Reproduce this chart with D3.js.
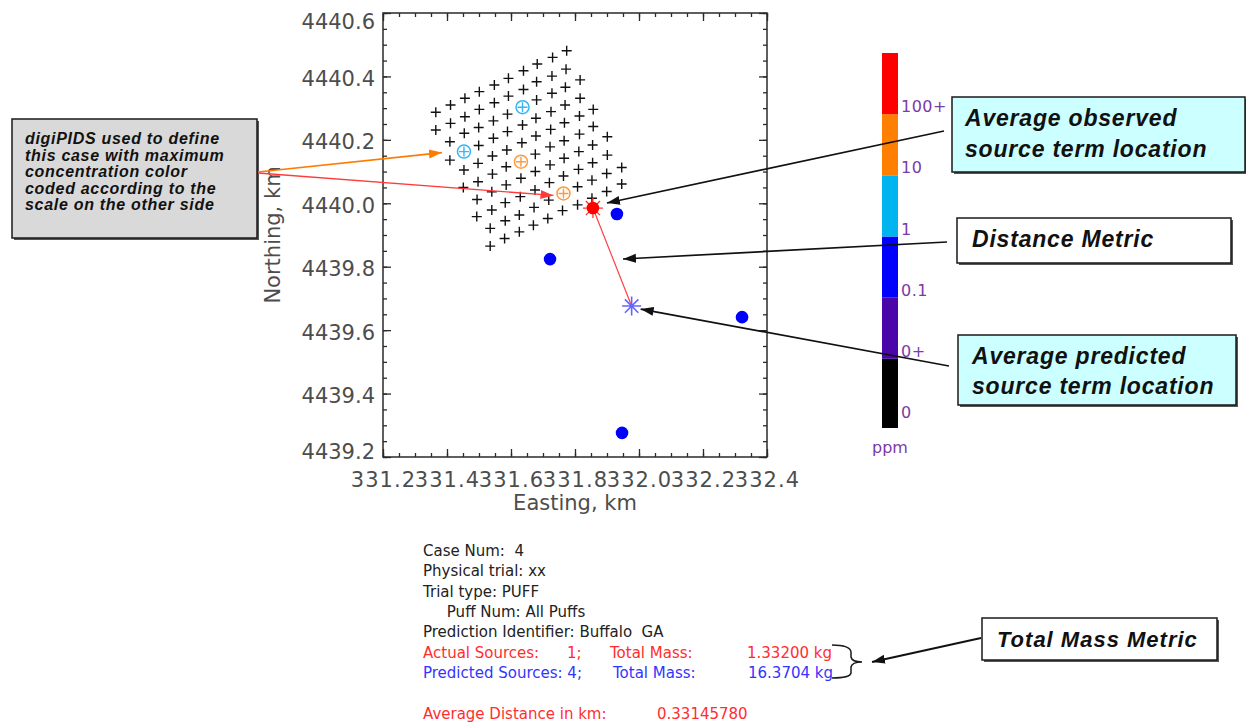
<!DOCTYPE html>
<html>
<head>
<meta charset="utf-8">
<script src="https://cdn.jsdelivr.net/npm/d3@7"></script>
<style>
  body { margin: 0; background: #fff; }
  svg { display: block; }
  text { white-space: pre; }
</style>
</head>
<body>
<svg id="chart" width="1246" height="727"></svg>
<script>
// ---------------- data ----------------
const eastingTicks  = [331.2, 331.4, 331.6, 331.8, 332.0, 332.2, 332.4];
const northingTicks = [4439.2, 4439.4, 4439.6, 4439.8, 4440.0, 4440.2, 4440.4, 4440.6];

// digiPIDS sampler grid (km)
const samplerEasting = [
  331.365, 331.365,
  331.411, 331.411, 331.409, 331.409,
  331.456, 331.456, 331.454, 331.453, 331.453, 331.451,
  331.501, 331.501, 331.499, 331.499, 331.497, 331.497, 331.494, 331.493,
  331.548, 331.548, 331.545, 331.545, 331.542, 331.542, 331.540, 331.540, 331.535, 331.535,
  331.592, 331.592, 331.589, 331.589, 331.587, 331.585, 331.585, 331.582, 331.582, 331.580,
  331.639, 331.639, 331.636, 331.636, 331.634, 331.631, 331.631, 331.629, 331.626, 331.626,
  331.682, 331.680, 331.680, 331.678, 331.678, 331.676, 331.676, 331.675, 331.672, 331.670,
  331.730, 331.728, 331.728, 331.725, 331.724, 331.722, 331.722, 331.720, 331.718, 331.715,
  331.774, 331.772, 331.770, 331.769, 331.767, 331.766, 331.766, 331.764, 331.764, 331.761,
  331.816, 331.816, 331.814, 331.814, 331.812, 331.811, 331.808, 331.808,
  331.857, 331.857, 331.855, 331.855, 331.853, 331.853,
  331.901, 331.901, 331.899, 331.899,
  331.946, 331.946
];
const samplerNorthing = [
  4440.287, 4440.231,
  4440.310, 4440.252, 4440.194, 4440.136,
  4440.331, 4440.273, 4440.221, 4440.163, 4440.105, 4440.050,
  4440.352, 4440.296, 4440.239, 4440.182, 4440.126, 4440.068, 4440.012, 4439.958,
  4440.373, 4440.317, 4440.260, 4440.205, 4440.149, 4440.092, 4440.036, 4439.979, 4439.921, 4439.865,
  4440.394, 4440.338, 4440.281, 4440.226, 4440.168, 4440.115, 4440.058, 4440.002, 4439.945, 4439.889,
  4440.418, 4440.359, 4440.303, 4440.247, 4440.191, 4440.131, 4440.079, 4440.021, 4439.963, 4439.910,
  4440.439, 4440.383, 4440.326, 4440.268, 4440.212, 4440.155, 4440.100, 4440.042, 4439.987, 4439.931,
  4440.460, 4440.401, 4440.347, 4440.289, 4440.233, 4440.178, 4440.121, 4440.065, 4440.010, 4439.952,
  4440.481, 4440.423, 4440.366, 4440.310, 4440.254, 4440.197, 4440.142, 4440.086, 4440.031, 4439.977,
  4440.389, 4440.331, 4440.275, 4440.218, 4440.163, 4440.107, 4440.052, 4439.995,
  4440.296, 4440.242, 4440.184, 4440.128, 4440.073, 4440.016,
  4440.210, 4440.152, 4440.094, 4440.037,
  4440.113, 4440.061
];

// samplers that reported a concentration, with their maximum-concentration bin
const hitEasting  = [331.453, 331.636, 331.631, 331.764];
const hitNorthing = [4440.163, 4440.303, 4440.131, 4440.031];
const hitBin      = ["1", "1", "10", "10"];

// predicted source locations
const predictedEasting  = [331.931, 331.722, 332.322, 331.947];
const predictedNorthing = [4439.966, 4439.824, 4439.641, 4439.276];

// average source term locations [easting, northing]
const observedAverage  = [331.856, 4439.985];
const predictedAverage = [331.977, 4439.676];

// concentration colour scale (ppm), bottom to top
const scaleLabels = ["0", "0+", "0.1", "1", "10", "100+"];
const scaleColors = ["#000000", "#4a06a8", "#0000ff", "#00b4f0", "#ff8000", "#ff0000"];

// case summary
const caseLines = [
  "Case Num:  4",
  "Physical trial: xx",
  "Trial type: PUFF",
  "     Puff Num: All Puffs",
  "Prediction Identifier: Buffalo  GA"
];
const actualSources = 1, actualMass = "1.33200";
const predictedSources = 4, predictedMass = "16.3704";
const averageDistance = "0.33145780";

// ---------------- drawing ----------------
const svg = d3.select("#chart");
svg.append("rect").attr("width", 1246).attr("height", 727).attr("fill", "#fff");

const defs = svg.append("defs");
function arrowMarker(id, color) {
  defs.append("marker")
    .attr("id", id).attr("markerUnits", "userSpaceOnUse")
    .attr("viewBox", "0 -6 14 12").attr("refX", 13).attr("refY", 0)
    .attr("markerWidth", 14).attr("markerHeight", 12).attr("orient", "auto")
    .append("path").attr("d", "M0,-4.5L13,0L0,4.5Z").attr("fill", color);
}
arrowMarker("ahBlack", "#111");
arrowMarker("ahOrange", "#ff7a00");
arrowMarker("ahRed", "#ff3c3c");

const x = d3.scaleLinear().domain([331.2, 332.4]).range([383, 767]);
const y = d3.scaleLinear().domain([4439.2, 4440.6]).range([457, 13]);
const [x0, x1] = x.range(), [y0, y1] = y.range();

const axisFont = "DejaVu Sans, Verdana, sans-serif";
const labelGray = "#4d4d4d";

// frame
svg.append("rect")
  .attr("x", x0).attr("y", y1).attr("width", x1 - x0).attr("height", y0 - y1)
  .attr("fill", "none").attr("stroke", "#2a2a2a").attr("stroke-width", 1.5);

function styleAxis(g) {
  g.select(".domain").remove();
  g.selectAll(".tick line").attr("stroke", "#2a2a2a").attr("stroke-width", 1.3);
  g.attr("font-family", axisFont).attr("font-size", 21);
  g.selectAll(".tick text").attr("fill", labelGray);
}
const fmt = d3.format(".1f");
const minorX = x.ticks(24), minorY = y.ticks(28);

// bottom axis with labels
svg.append("g").attr("transform", `translate(0,${y0})`)
  .call(d3.axisBottom(x).tickValues(minorX).tickSize(-4).tickFormat(""))
  .call(styleAxis);
svg.append("g").attr("transform", `translate(0,${y0})`)
  .call(d3.axisBottom(x).tickValues(eastingTicks).tickSize(-8).tickPadding(15).tickFormat(fmt))
  .call(styleAxis)
  .call(g => g.selectAll(".tick text").attr("letter-spacing", 1.1));
// top axis (mirror)
svg.append("g").attr("transform", `translate(0,${y1})`)
  .call(d3.axisTop(x).tickValues(minorX).tickSize(-4).tickFormat(""))
  .call(styleAxis);
svg.append("g").attr("transform", `translate(0,${y1})`)
  .call(d3.axisTop(x).tickValues(eastingTicks).tickSize(-8).tickFormat(""))
  .call(styleAxis);
// left axis with labels
svg.append("g").attr("transform", `translate(${x0},0)`)
  .call(d3.axisLeft(y).tickValues(minorY).tickSize(-4).tickFormat(""))
  .call(styleAxis);
const leftAxis = svg.append("g").attr("transform", `translate(${x0},0)`)
  .call(d3.axisLeft(y).tickValues(northingTicks).tickSize(-8).tickPadding(8).tickFormat(fmt))
  .call(styleAxis);
const yMax = d3.max(northingTicks), yMin = d3.min(northingTicks);
leftAxis.selectAll(".tick text")
  .attr("dy", d => d === yMax ? "0.73em" : d === yMin ? "0.05em" : "0.43em");
// right axis (mirror)
svg.append("g").attr("transform", `translate(${x1},0)`)
  .call(d3.axisRight(y).tickValues(minorY).tickSize(-4).tickFormat(""))
  .call(styleAxis);
svg.append("g").attr("transform", `translate(${x1},0)`)
  .call(d3.axisRight(y).tickValues(northingTicks).tickSize(-8).tickFormat(""))
  .call(styleAxis);

// axis titles
svg.append("text")
  .attr("x", (x0 + x1) / 2).attr("y", 510).attr("text-anchor", "middle")
  .attr("font-family", axisFont).attr("font-size", 21).attr("fill", labelGray)
  .text("Easting, km");
svg.append("text")
  .attr("transform", `translate(280,${(y0 + y1) / 2}) rotate(-90)`)
  .attr("text-anchor", "middle")
  .attr("font-family", axisFont).attr("font-size", 21).attr("fill", labelGray)
  .text("Northing, km");

// sampler grid
const plotG = svg.append("g");
plotG.selectAll("path.sampler")
  .data(d3.range(samplerEasting.length))
  .join("path").attr("class", "sampler")
  .attr("transform", i => `translate(${x(samplerEasting[i])},${y(samplerNorthing[i])})`)
  .attr("d", "M-5,0H5M0,-5V5")
  .attr("stroke", "#111").attr("stroke-width", 1.4).attr("fill", "none");

// samplers with detections, coloured by maximum concentration
const binColor = d3.scaleOrdinal().domain(scaleLabels).range(scaleColors.map((c, i) =>
  i === 3 ? "#33b6f4" : i === 4 ? "#ff9a40" : c));
const hitG = plotG.selectAll("g.hit")
  .data(d3.range(hitEasting.length))
  .join("g").attr("class", "hit")
  .attr("transform", i => `translate(${x(hitEasting[i])},${y(hitNorthing[i])})`);
hitG.append("circle").attr("r", 6.5).attr("fill", "#fff")
  .attr("stroke", i => binColor(hitBin[i])).attr("stroke-width", 1.5);
hitG.append("path").attr("d", "M-5,0H5M0,-5V5")
  .attr("stroke", i => binColor(hitBin[i])).attr("stroke-width", 1.4);

// distance between averaged observed and predicted locations
plotG.append("line")
  .attr("x1", x(observedAverage[0])).attr("y1", y(observedAverage[1]))
  .attr("x2", x(predictedAverage[0])).attr("y2", y(predictedAverage[1]))
  .attr("stroke", "#ff4040").attr("stroke-width", 1.2);

// predicted sources
plotG.selectAll("circle.pred")
  .data(d3.range(predictedEasting.length))
  .join("circle").attr("class", "pred")
  .attr("cx", i => x(predictedEasting[i])).attr("cy", i => y(predictedNorthing[i]))
  .attr("r", 6.3).attr("fill", "#0000ff");

// asterisk helper
function asterisk(r) {
  return d3.range(4).map(k => {
    const a = k * Math.PI / 4, dx = r * Math.cos(a), dy = r * Math.sin(a);
    return `M${-dx},${-dy}L${dx},${dy}`;
  }).join("");
}
// observed average: red star
const obsG = plotG.append("g")
  .attr("transform", `translate(${x(observedAverage[0])},${y(observedAverage[1])})`);
obsG.append("path").attr("d", asterisk(10)).attr("stroke", "#ff3030").attr("stroke-width", 1.3);
obsG.append("circle").attr("r", 6.3).attr("fill", "#ff0000");
// predicted average: blue asterisk
plotG.append("path")
  .attr("transform", `translate(${x(predictedAverage[0])},${y(predictedAverage[1])})`)
  .attr("d", asterisk(9.5)).attr("stroke", "#6464ff").attr("stroke-width", 1.6);

// colour bar
const bin = d3.scaleLinear().domain([0, scaleLabels.length]).range([420, 53]);
const barX = 882, barW = 16;
svg.append("g").selectAll("rect")
  .data(scaleColors)
  .join("rect")
  .attr("x", barX).attr("width", barW)
  .attr("y", (c, i) => bin(i + 1))
  .attr("height", (c, i) => bin(i) - bin(i + 1) + (i === 0 ? 8 : 0))
  .attr("fill", c => c);
svg.append("g").selectAll("text")
  .data(scaleLabels)
  .join("text")
  .attr("x", barX + barW + 3).attr("y", (t, i) => bin(i) - 2)
  .attr("font-family", axisFont).attr("font-size", 16).attr("fill", "#7a3aa8")
  .attr("letter-spacing", 0.5)
  .text(t => t);
svg.append("text")
  .attr("x", barX + barW / 2).attr("y", 453).attr("text-anchor", "middle")
  .attr("font-family", axisFont).attr("font-size", 16).attr("fill", "#7a3aa8")
  .text("ppm");

// ---------------- annotations ----------------
const noteFont = "Liberation Sans, Arial, sans-serif";
function noteBox(bx, by, bw, bh, fill) {
  svg.append("rect").attr("x", bx + 2).attr("y", by + 2).attr("width", bw).attr("height", bh)
    .attr("fill", "#555");
  svg.append("rect").attr("x", bx).attr("y", by).attr("width", bw).attr("height", bh)
    .attr("fill", fill).attr("stroke", "#1a1a1a").attr("stroke-width", 1.5);
}
function noteText(tx, baselines, lines, size, spacing) {
  const t = svg.append("text")
    .attr("font-family", noteFont).attr("font-size", size)
    .attr("font-weight", "bold").attr("font-style", "italic")
    .attr("letter-spacing", spacing).attr("fill", "#111");
  lines.forEach((l, i) => t.append("tspan").attr("x", tx).attr("y", baselines[i]).text(l));
}
function arrow(ax1, ay1, ax2, ay2, color, marker, w) {
  svg.append("line").attr("x1", ax1).attr("y1", ay1).attr("x2", ax2).attr("y2", ay2)
    .attr("stroke", color).attr("stroke-width", w).attr("marker-end", `url(#${marker})`);
}

// digiPIDS note
noteBox(12, 119, 245, 119, "#d9d9d9");
noteText(25, [144, 160.5, 177, 193.5, 210],
  ["digiPIDS used to define", "this case with maximum", "concentration color",
   "coded according to the", "scale on the other side"], 16, 0.7);
arrow(258, 172, x(hitEasting[0]) - 22, y(hitNorthing[0]) + 1, "#ff7a00", "ahOrange", 1.6);
arrow(258, 173, x(hitEasting[3]) - 10, y(hitNorthing[3]) + 2, "#ff3c3c", "ahRed", 1.3);

// observed location note
noteBox(952, 97, 293, 75, "#ccffff");
noteText(965, [126, 157], ["Average observed", "source term location"], 23, 0.8);
arrow(944, 131, x(observedAverage[0]) + 14, y(observedAverage[1]) - 5, "#111", "ahBlack", 1.7);

// distance note
noteBox(957, 218, 274, 45, "#ffffff");
noteText(972, [247], ["Distance Metric"], 23, 0.8);
arrow(947, 242, 623, 259, "#111", "ahBlack", 1.7);

// predicted location note
noteBox(958, 335, 278, 70, "#ccffff");
noteText(972, [364, 394], ["Average predicted", "source term location"], 23, 0.8);
arrow(949, 366, x(predictedAverage[0]) + 9, y(predictedAverage[1]) + 3, "#111", "ahBlack", 1.7);

// total mass note
noteBox(982, 618, 235, 42, "#ffffff");
noteText(997, [647], ["Total Mass Metric"], 22, 1);
arrow(981, 638, 872, 662, "#111", "ahBlack", 2);

// brace grouping the two mass lines
svg.append("path")
  .attr("d", "M832,645Q850,645 851,652L851,657Q852,662 862,662Q852,662 851,667L851,673Q850,678 832,678")
  .attr("fill", "none").attr("stroke", "#1a1a1a").attr("stroke-width", 1.5);

// ---------------- case summary ----------------
const infoFont = "DejaVu Sans, Verdana, sans-serif";
const info = svg.append("g").attr("font-family", infoFont).attr("font-size", 15);
const lineY = [556, 576.3, 596.7, 617, 637.3];
caseLines.forEach((l, i) =>
  info.append("text").attr("x", 423).attr("y", lineY[i]).attr("fill", "#222").text(l));

const red = "#ff2e2e", blue = "#3434ff";
info.append("text").attr("x", 423).attr("y", 658).attr("fill", red).text("Actual Sources:");
info.append("text").attr("x", 567).attr("y", 658).attr("fill", red).text(`${actualSources};`);
info.append("text").attr("x", 610).attr("y", 658).attr("fill", red).text("Total Mass:");
info.append("text").attr("x", 832).attr("y", 658).attr("text-anchor", "end").attr("fill", red)
  .text(`${actualMass} kg`);

info.append("text").attr("x", 423).attr("y", 678).attr("fill", blue)
  .text(`Predicted Sources: ${predictedSources};`);
info.append("text").attr("x", 613).attr("y", 678).attr("fill", blue).text("Total Mass:");
info.append("text").attr("x", 833).attr("y", 678).attr("text-anchor", "end").attr("fill", blue)
  .text(`${predictedMass} kg`);

info.append("text").attr("x", 423).attr("y", 719).attr("fill", red).text("Average Distance in km:");
info.append("text").attr("x", 657).attr("y", 719).attr("fill", red).text(averageDistance);
</script>
</body>
</html>
